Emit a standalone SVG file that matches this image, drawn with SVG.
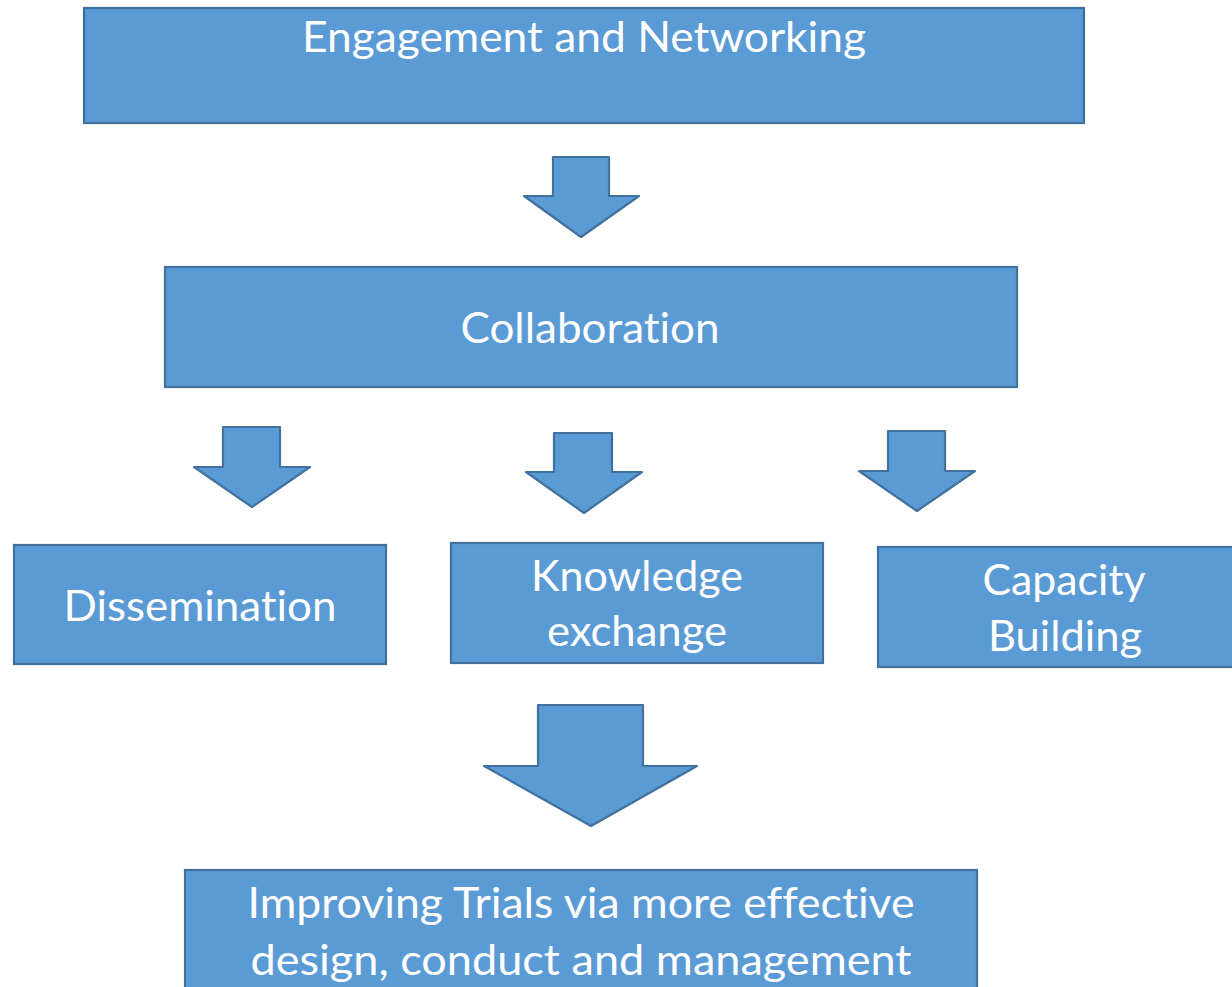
<svg xmlns="http://www.w3.org/2000/svg" width="1232" height="987" viewBox="0 0 1232 987">
<style>
.box{fill:#5B9BD5;stroke:#41719C;stroke-width:2.2}
.arr{fill:#5B9BD5;stroke:#41719C;stroke-width:2.2;stroke-linejoin:round}
.t{fill:#FFFFFF;font-family:Lato,"Open Sans","Liberation Sans",sans-serif;font-size:42px;text-anchor:middle;font-variant-ligatures:none;font-feature-settings:"liga" 0,"clig" 0,"calt" 0,"dlig" 0}
</style>
<rect width="1232" height="987" fill="#FFFFFF"/>
<g id="connectors">
<polygon class="arr" points="553,157 609,157 609,196 639,196 581,237 524,196 553,196"/>
<polygon class="arr" points="223,427 280,427 280,467 310,467 252,507 194,467 223,467"/>
<polygon class="arr" points="554,433 612,433 612,472 642,472 584,513 526,472 554,472"/>
<polygon class="arr" points="888,431 945,431 945,471 975,471 917,511 859,471 888,471"/>
<polygon class="arr" points="538,705 643,705 643,766 697,766 591,826 484,766 538,766"/>
</g>
<g id="engagement">
<rect class="box" x="84" y="8" width="1000" height="115"/>
<text class="t" x="584" y="52" textLength="564" lengthAdjust="spacingAndGlyphs">Engagement and Networking</text>
</g>
<g id="collaboration">
<rect class="box" x="165" y="267" width="852" height="120"/>
<text class="t" x="590" y="343" textLength="259" lengthAdjust="spacingAndGlyphs">Collaboration</text>
</g>
<g id="dissemination">
<rect class="box" x="14" y="545" width="372" height="119"/>
<text class="t" x="200" y="621" textLength="273" lengthAdjust="spacingAndGlyphs">Dissemination</text>
</g>
<g id="knowledge">
<rect class="box" x="451" y="543" width="372" height="120"/>
<text class="t" x="637" y="591" textLength="212" lengthAdjust="spacingAndGlyphs">Knowledge</text>
<text class="t" x="637" y="646" textLength="180" lengthAdjust="spacingAndGlyphs">exchange</text>
</g>
<g id="capacity">
<rect class="box" x="878" y="547" width="370" height="120"/>
<text class="t" x="1064" y="595" textLength="163" lengthAdjust="spacingAndGlyphs">Capacity</text>
<text class="t" x="1065" y="651" textLength="154" lengthAdjust="spacingAndGlyphs">Building</text>
</g>
<g id="improving">
<rect class="box" x="185" y="870" width="792" height="130"/>
<text class="t" x="581" y="918" textLength="667" lengthAdjust="spacingAndGlyphs">Improving Trials via more effective</text>
<text class="t" x="581" y="975" textLength="661" lengthAdjust="spacingAndGlyphs">design, conduct and management</text>
</g>
</svg>
